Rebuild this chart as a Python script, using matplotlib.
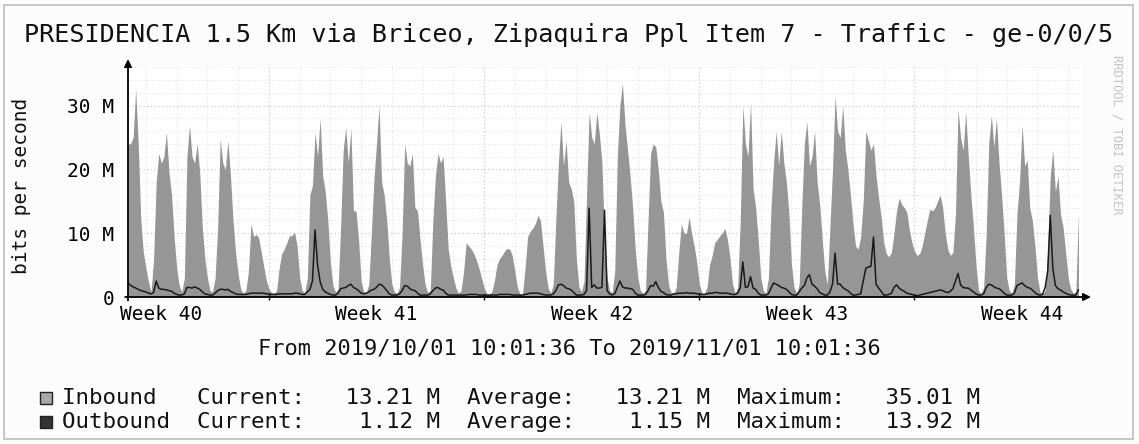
import datetime as dt
import numpy as np
import matplotlib
matplotlib.use("Agg")
import matplotlib.pyplot as plt
from matplotlib.patches import Rectangle

# ---------------- data ----------------
title = "PRESIDENCIA 1.5 Km via Briceo, Zipaquira Ppl Item 7 - Traffic - ge-0/0/5"
y_label = "bits per second"
period_text = "From 2019/10/01 10:01:36 To 2019/11/01 10:01:36"
watermark = "RRDTOOL / TOBI OETIKER"
start = dt.datetime(2019, 10, 1, 10, 1, 36)
end = dt.datetime(2019, 11, 1, 10, 1, 36)
step_hours = 2  # one sample every 2 hours

# Inbound traffic, Mbit/s (12 samples per day)
inbound_mbps = [
    24, 24, 25, 32.6, 24, 12, 7, 4.5, 2.4, 0.8, 6, 18,
    22.5, 21, 22, 25.8, 19.5, 16, 9.5, 4.5, 1.8, 0.8, 3, 22,
    26.9, 22, 21, 24, 19.5, 11, 6, 3, 1, 0.8, 3, 11,
    24.8, 21, 20, 24.5, 19, 12, 7, 3.5, 1.2, 0.6, 1, 4,
    11.5, 9.5, 9.8, 9.3, 7, 4.8, 2.6, 1.3, 0.7, 0.6, 1, 4.5,
    6.8, 7.5, 8.5, 9.6, 9.6, 10.2, 8, 3, 1, 0.7, 3, 16,
    17.5, 25.8, 22, 28, 19, 16.5, 12, 5.5, 1.8, 0.8, 1.2, 11,
    23, 26.5, 21, 26.5, 13.5, 13.5, 9, 2.5, 0.8, 0.7, 2, 10,
    18.5, 24, 30, 18, 16, 12, 6, 2, 0.8, 0.6, 1.5, 10,
    24, 21, 20.5, 22.5, 14, 13.5, 9, 5, 1.9, 0.7, 1, 12,
    19, 22.5, 21, 22, 15, 7.5, 4.8, 3, 1.4, 0.6, 1, 4,
    8.5, 8, 7.5, 6.8, 5.8, 4.5, 3, 1.4, 0.6, 0.5, 0.8, 2.5,
    5, 6, 6.5, 7.2, 7.6, 7.5, 6.5, 4, 1.5, 0.5, 0.5, 4.5,
    9.5, 10.3, 10.8, 11.5, 12.8, 12, 8, 4, 1.4, 0.6, 2, 12,
    21, 27.5, 20.6, 24.5, 18, 17, 15, 6, 1.6, 0.8, 2.5, 16,
    29, 25, 24, 29, 25.5, 21, 9, 3, 1, 0.7, 4, 22,
    30, 33.5, 27, 23, 19, 14, 7.5, 3, 1, 0.6, 1, 12,
    22.5, 24, 23.5, 20, 15, 13.3, 6, 1.9, 0.7, 0.5, 1.5, 7,
    11.5, 10, 10, 12.5, 10, 8, 5.5, 2, 0.7, 0.5, 1.5, 5,
    6.5, 8.5, 9, 9.6, 10, 10.8, 9, 6, 2, 0.6, 1.5, 12,
    30, 24, 22, 30.5, 17, 14, 9, 3, 1, 0.6, 3, 14,
    21, 26, 20.6, 26, 21, 18, 13, 5, 1.5, 0.6, 2, 14,
    24, 27.5, 20.6, 22, 26, 18, 14.5, 9, 4, 2, 11, 20,
    31.5, 26, 25, 30, 23, 20, 16, 11.5, 8, 7.5, 9.5, 15,
    26, 24.5, 23, 24, 19, 15.5, 12.5, 8.5, 6.8, 6.3, 7, 10,
    13.5, 15.5, 14.5, 14, 13.3, 10.5, 8.5, 7.2, 6.5, 6.8, 8, 10,
    12, 13.8, 13.5, 14, 15, 16, 14, 10, 7.5, 6.5, 7, 13,
    29.5, 25, 23, 29, 22, 16, 11, 5, 1, 0.6, 1.5, 10,
    24, 28.5, 23.5, 28, 21, 16, 10, 3, 1, 0.6, 2, 13,
    18, 27, 20.5, 21.5, 14, 12, 8, 3, 0.8, 0.5, 1, 7,
    19, 23, 16.5, 19, 13, 11, 7, 3, 1.2, 0.6, 0.8, 13.21,
]

# Outbound traffic, Mbit/s (12 samples per day)
outbound_mbps = [
    2.2, 1.8, 1.6, 1.4, 1.2, 1.0, 0.9, 0.8, 0.6, 0.5, 0.7, 2.5,
    1.4, 1.2, 1.2, 1.1, 1.0, 0.9, 0.6, 0.4, 0.3, 0.3, 0.5, 1.5,
    1.5, 1.4, 1.6, 1.4, 1.2, 0.8, 0.5, 0.4, 0.3, 0.3, 0.6, 1.0,
    1.2, 1.2, 1.1, 1.2, 0.9, 0.7, 0.5, 0.4, 0.4, 0.4, 0.4, 0.5,
    0.6, 0.6, 0.6, 0.6, 0.6, 0.6, 0.5, 0.5, 0.4, 0.4, 0.4, 0.5,
    0.5, 0.5, 0.5, 0.5, 0.5, 0.6, 0.6, 0.5, 0.4, 0.4, 0.8, 1.2,
    2.5, 10.5, 5.0, 2.4, 1.2, 0.8, 0.6, 0.4, 0.3, 0.3, 0.6, 1.3,
    1.4, 1.5, 1.8, 2.0, 1.5, 1.3, 1.0, 0.6, 0.5, 0.6, 0.8, 1.1,
    1.2, 1.5, 2.0, 1.9, 1.5, 1.0, 0.5, 0.3, 0.3, 0.3, 0.5, 1.0,
    1.8, 1.7, 1.3, 1.1, 1.0, 0.6, 0.3, 0.3, 0.3, 0.3, 0.5, 1.0,
    1.4, 1.5, 1.2, 1.1, 0.6, 0.3, 0.3, 0.3, 0.3, 0.3, 0.3, 0.3,
    0.3, 0.4, 0.4, 0.4, 0.4, 0.3, 0.3, 0.3, 0.3, 0.3, 0.3, 0.3,
    0.3, 0.4, 0.4, 0.4, 0.4, 0.4, 0.3, 0.3, 0.3, 0.3, 0.3, 0.4,
    0.5, 0.6, 0.6, 0.6, 0.6, 0.5, 0.4, 0.3, 0.3, 0.3, 0.5, 1.0,
    1.9, 2.0, 1.8, 1.4, 1.3, 1.1, 0.7, 0.3, 0.3, 0.3, 0.4, 1.0,
    13.92, 1.5, 1.9, 1.4, 1.4, 1.5, 13.6, 1.0, 0.5, 0.3, 0.5, 1.5,
    2.5, 1.6, 1.4, 1.4, 1.3, 1.2, 0.6, 0.3, 0.3, 0.3, 0.4, 1.0,
    1.8, 1.7, 2.4, 1.5, 0.9, 0.7, 0.4, 0.3, 0.3, 0.5, 0.5, 0.6,
    0.6, 0.6, 0.7, 0.6, 0.6, 0.6, 0.5, 0.5, 0.4, 0.4, 0.5, 0.6,
    0.6, 0.7, 0.7, 0.6, 0.6, 0.6, 0.6, 0.5, 0.4, 0.4, 0.6, 1.5,
    5.5, 1.5, 1.6, 3.2, 1.4, 1.2, 0.6, 0.3, 0.3, 0.3, 0.5, 1.4,
    2.2, 2.0, 1.8, 1.5, 1.4, 1.2, 0.8, 0.4, 0.3, 0.3, 0.8, 1.4,
    1.8, 3.0, 3.5, 2.0, 1.7, 1.3, 0.7, 0.5, 0.3, 0.3, 0.8, 2.0,
    6.9, 2.0, 2.0, 1.5, 1.2, 1.0, 0.6, 0.3, 0.3, 0.4, 0.5, 2.5,
    4.5, 4.7, 4.8, 9.4, 2.0, 1.4, 0.9, 0.3, 0.3, 0.4, 0.6, 1.5,
    1.9, 1.4, 1.1, 0.9, 0.6, 0.5, 0.4, 0.3, 0.2, 0.3, 0.4, 0.5,
    0.6, 0.7, 0.8, 0.9, 1.0, 1.1, 1.0, 0.8, 0.7, 0.9, 1.3, 2.5,
    3.7, 1.9, 1.5, 1.4, 1.4, 1.1, 0.8, 0.5, 0.3, 0.3, 0.5, 1.5,
    2.0, 1.9, 1.6, 1.4, 1.3, 1.0, 0.6, 0.3, 0.3, 0.3, 0.6, 1.8,
    2.0, 2.2, 1.8, 1.5, 1.4, 1.1, 0.7, 0.4, 0.3, 0.4, 1.5, 4.0,
    12.8, 4.5, 1.8, 1.3, 1.1, 0.8, 0.6, 0.4, 0.3, 0.3, 0.3, 1.12,
]

ytick_values = [0, 10, 20, 30]
ytick_labels = ["0", "10 M", "20 M", "30 M"]
legend_names = ["Inbound", "Outbound"]
legend_current = ["13.21 M", "1.12 M"]
legend_average = ["13.21 M", "1.15 M"]
legend_maximum = ["35.01 M", "13.92 M"]
series_colors = ["#969696", "#1a1a1a"]
legend_box_colors = ["#a8a8a8", "#333333"]

# ---------------- figure ----------------
W, H = 1139, 444
MONO = "DejaVu Sans Mono"
fig = plt.figure(figsize=(W / 100, H / 100), dpi=100)
fig.patch.set_facecolor("#fcfcfc")


def fx(px):
    return px / W


def fy(py):
    return 1 - py / H


ax_left, ax_right, ax_bottom, ax_top = 128, 1081, 297, 66
ax = fig.add_axes([fx(ax_left), fy(ax_bottom), fx(ax_right) - fx(ax_left),
                   fy(ax_top) - fy(ax_bottom)])
ax.set_facecolor("white")

total_hours = (end - start).total_seconds() / 3600.0
t = np.arange(len(inbound_mbps)) * step_hours
ymax = 36.2
ax.set_xlim(0, total_hours)
ax.set_ylim(0, ymax)

# grid: days (minor) and weeks starting Sunday (major)
midnights = []
d = dt.datetime(start.year, start.month, start.day) + dt.timedelta(days=1)
while d < end:
    midnights.append(d)
    d += dt.timedelta(days=1)
day_h = [(m - start).total_seconds() / 3600 for m in midnights]
sun_h = [(m - start).total_seconds() / 3600 for m in midnights if m.weekday() == 6]
minor_day_h = [h for h, m in zip(day_h, midnights) if m.weekday() != 6]

dot = (0, (1, 2))
ax.vlines(minor_day_h, 0, ymax, colors="#e2e2e2", linestyles=dot, lw=0.8, zorder=0.5)
ax.vlines(sun_h, 0, ymax, colors="#cacaca", linestyles=dot, lw=0.9, zorder=0.5)
minor_y = [v for v in np.arange(2, ymax, 2) if v % 10 != 0]
ax.hlines(minor_y, 0, total_hours, colors="#e2e2e2", linestyles=dot, lw=0.8, zorder=0.5)
ax.hlines([10, 20, 30], 0, total_hours, colors="#cacaca", linestyles=dot, lw=0.9, zorder=0.5)

# series
ax.fill_between(t, inbound_mbps, 0, color=series_colors[0], lw=0, zorder=2)
ax.plot(t, outbound_mbps, color=series_colors[1], lw=1.1, zorder=3)

# axes with arrows
for s in ax.spines.values():
    s.set_visible(False)
ax.annotate("", xy=(0, 1.03), xytext=(0, -0.015), xycoords="axes fraction",
            arrowprops=dict(arrowstyle="-|>", color="black", lw=1.3,
                            mutation_scale=11, shrinkA=0, shrinkB=0), zorder=5)
ax.annotate("", xy=(1.0105, 0), xytext=(-0.003, 0), xycoords="axes fraction",
            arrowprops=dict(arrowstyle="-|>", color="black", lw=1.3,
                            mutation_scale=11, shrinkA=0, shrinkB=0), zorder=5)
ax.vlines(sun_h, -0.45, 0.45, colors="black", lw=1.0, clip_on=False, zorder=5)

# y ticks
ax.set_yticks(ytick_values, ytick_labels)
ax.tick_params(axis="y", length=0, pad=10, labelsize=14.0)
for lab in ax.get_yticklabels():
    lab.set_fontfamily(MONO)

# x labels: Week N centred in the middle of each Sunday-started week
week_pos, week_lab = [], []
first_sun = [m for m in midnights if m.weekday() == 6][0] - dt.timedelta(days=7)
ws = first_sun
while ws < end:
    mid = ws + dt.timedelta(days=3.5)
    h = (mid - start).total_seconds() / 3600
    if 0 <= h <= total_hours:
        week_pos.append(h)
        week_lab.append("Week " + str(int(mid.strftime("%V"))))
    ws += dt.timedelta(days=7)
ax.set_xticks(week_pos, week_lab)
ax.tick_params(axis="x", length=0, pad=6, labelsize=14.0)
for lab in ax.get_xticklabels():
    lab.set_fontfamily(MONO)

# texts
fig.text(fx(24), fy(35), title, ha="left", va="center", fontsize=18.1,
         family=MONO, color="#111111")
fig.text(fx(22), fy(186), y_label, ha="center", va="center", rotation=90,
         fontsize=14.0, family=MONO, color="#111111")
fig.text(fx(569.5), fy(348), period_text, ha="center", va="center",
         fontsize=15.8, family=MONO, color="#111111")
fig.text(fx(1117), fy(135), watermark, ha="center", va="center", rotation=270,
         fontsize=8.7, family=MONO, color="#c4c4c4")

# legend
row_y = [398, 422]
for i in range(2):
    line = (f"{legend_names[i]:<10}Current:{legend_current[i]:>10}  "
            f"Average:{legend_average[i]:>10}  Maximum:{legend_maximum[i]:>10}")
    fig.text(fx(62), fy(row_y[i]), line, ha="left", va="center",
             fontsize=16.2, family=MONO, color="#111111")
    fig.patches.append(Rectangle((fx(40), fy(row_y[i] + 6)), fx(12), 12 / H,
                                 transform=fig.transFigure, facecolor=legend_box_colors[i],
                                 edgecolor="#222222", lw=1.0))

# outer frame
fig.patches.append(Rectangle((fx(4), fy(439)), fx(1129), 434 / H, transform=fig.transFigure,
                             fill=False, edgecolor="#bdbdbd", lw=1.2))

fig.savefig("out.png", dpi=100, facecolor=fig.get_facecolor())
